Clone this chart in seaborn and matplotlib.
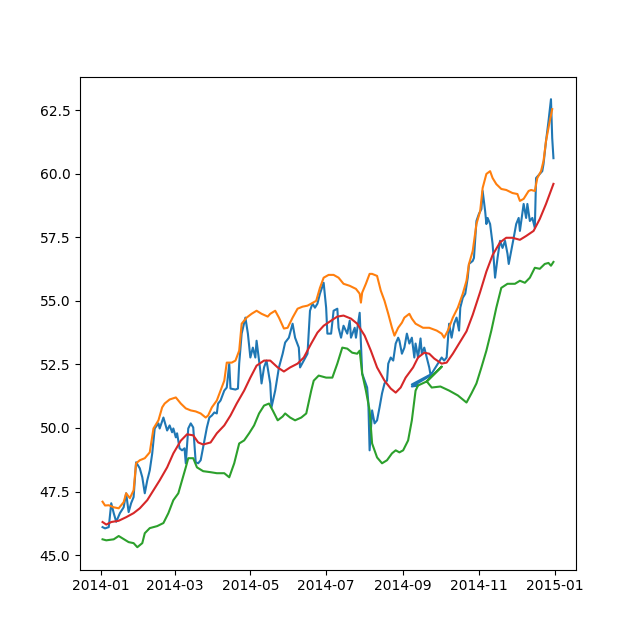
import numpy as np
import pandas as pd
import matplotlib
matplotlib.use("Agg")
import matplotlib.pyplot as plt
import seaborn as sns

# Day offsets from 2014-01-01 and values
price_days = [1, 3, 6, 8, 10, 12, 15, 18, 20, 22, 24, 26, 28, 31, 33, 35, 37, 39, 41, 43,
              46, 47, 50, 53, 55, 57, 58, 60, 61, 63, 65, 67, 68, 70, 72, 74, 76, 78, 80, 82,
              85, 87, 89, 91, 93, 94, 96, 99, 101, 103, 104, 108, 110, 111, 113, 116, 118, 120, 122, 124,
              125, 128, 129, 131, 133, 136, 137, 140, 143, 146, 148, 151, 154, 156, 159, 160, 163, 166, 168, 170,
              172, 174, 176, 179, 181, 182, 185, 187, 190, 191, 193, 195, 198, 200, 201, 204, 205, 208, 209, 210,
              212, 214, 215, 216, 218, 220, 222, 224, 226, 228, 230, 231, 233, 235, 237, 239, 240, 242, 244, 246,
              248, 250, 252, 253, 255, 257, 258, 260, 262, 264, 265, 250, 255, 250, 265, 274, 276, 278, 280, 282,
              284, 286, 288, 289, 291, 293, 295, 296, 299, 300, 302, 304, 306, 307, 309, 310, 311, 313, 315, 317,
              319, 321, 323, 325, 327, 328, 330, 332, 334, 336, 337, 340, 342, 343, 345, 347, 349, 350, 353, 355,
              356, 358, 360, 362, 363, 364]
price_vals = [46.10, 46.05, 46.10, 47.04, 46.65, 46.31, 46.65, 46.88, 47.43, 46.69, 47.04, 47.28, 48.65, 48.41, 48.06, 47.43, 47.94, 48.33, 49.00, 49.98,
              50.18, 49.98, 50.41, 49.90, 50.10, 49.83, 49.98, 49.63, 49.79, 49.20, 49.12, 49.20, 48.61, 49.98, 50.18, 50.02, 48.65, 48.61, 48.73, 49.24,
              50.02, 50.41, 50.49, 50.61, 50.57, 50.96, 51.08, 51.47, 51.59, 52.53, 51.55, 51.51, 51.55, 52.53, 53.71, 54.34, 53.71, 52.77, 53.16, 52.77,
              53.43, 52.26, 51.75, 52.38, 52.65, 51.75, 50.81, 51.47, 52.38, 52.92, 53.36, 53.55, 54.10, 53.55, 53.16, 52.38, 52.65, 52.92, 54.61, 54.89,
              54.73, 54.89, 55.28, 55.71, 54.73, 53.71, 53.71, 54.61, 54.69, 53.94, 53.55, 54.02, 53.71, 54.22, 53.55, 53.94, 53.55, 54.53, 53.32, 52.14,
              51.86, 51.59, 50.96, 49.12, 50.69, 50.18, 50.30, 50.81, 51.36, 51.75, 51.86, 52.53, 52.77, 52.65, 53.32, 53.55, 53.43, 52.92, 53.16, 53.71,
              53.32, 53.55, 52.77, 53.32, 52.77, 53.52, 52.92, 53.16, 52.77, 52.38, 52.10, 51.71, 51.67, 51.63, 52.06, 52.77, 52.65, 52.77, 54.10, 53.55,
              54.10, 54.34, 53.83, 54.73, 55.12, 55.28, 55.91, 56.45, 56.57, 56.69, 58.14, 58.42, 58.61, 59.32, 58.53, 58.02, 58.26, 58.02, 57.24, 55.91,
              56.69, 57.36, 57.08, 57.36, 56.85, 56.45, 56.96, 57.48, 58.02, 58.26, 57.75, 58.81, 58.26, 58.81, 58.14, 58.26, 57.87, 59.83, 59.99, 60.10,
              60.38, 61.28, 62.06, 62.93, 61.40, 60.61]

upper_days = [1, 3, 6, 10, 14, 18, 20, 23, 26, 28, 31, 35, 39, 42, 46, 49, 51, 55, 60, 64,
              68, 72, 76, 80, 84, 86, 89, 93, 96, 99, 101, 105, 108, 111, 113, 117, 121, 125, 129, 134,
              136, 140, 143, 147, 150, 154, 158, 162, 166, 169, 173, 176, 179, 183, 187, 191, 195, 200, 205, 208,
              209, 210, 213, 216, 218, 222, 225, 228, 231, 234, 236, 239, 242, 244, 248, 250, 253, 259, 264, 270,
              274, 276, 279, 283, 287, 291, 294, 296, 299, 302, 305, 307, 310, 313, 315, 318, 322, 326, 331, 335,
              337, 340, 344, 346, 349, 351, 354, 356, 358, 361, 363]
upper_vals = [47.10, 46.95, 46.96, 46.88, 46.84, 47.08, 47.43, 47.24, 47.55, 48.61, 48.73, 48.81, 49.04, 49.98, 50.30, 50.81, 50.96, 51.12, 51.20, 50.96,
              50.77, 50.69, 50.65, 50.57, 50.41, 50.49, 50.81, 51.08, 51.47, 51.86, 52.57, 52.57, 52.65, 53.04, 54.10, 54.34, 54.49, 54.61, 54.49, 54.38,
              54.49, 54.61, 54.34, 53.91, 53.94, 54.34, 54.69, 54.77, 54.81, 54.89, 55.00, 55.51, 55.91, 56.02, 56.02, 55.91, 55.67, 55.59, 55.47, 55.28,
              54.93, 55.32, 55.67, 56.06, 56.06, 55.98, 55.40, 55.00, 54.49, 53.94, 53.63, 53.94, 54.14, 54.34, 54.49, 54.30, 54.10, 53.94, 53.94, 53.83,
              53.71, 53.55, 53.83, 54.34, 54.73, 55.28, 55.79, 56.45, 56.96, 58.02, 58.53, 59.44, 59.99, 60.10, 59.83, 59.59, 59.40, 59.36, 59.24, 59.20,
              58.93, 59.01, 59.32, 59.36, 59.32, 59.83, 60.10, 60.50, 61.28, 62.06, 62.54]

lower_days = [1, 4, 10, 14, 18, 22, 26, 29, 33, 35, 39, 45, 50, 54, 58, 62, 65, 68, 70, 74,
              77, 82, 88, 93, 99, 103, 107, 111, 115, 119, 123, 127, 131, 135, 138, 142, 146, 148, 152, 156,
              161, 165, 169, 171, 175, 181, 186, 190, 194, 198, 202, 206, 208, 210, 213, 216, 218, 222, 226, 230,
              234, 237, 240, 243, 247, 250, 253, 255, 262, 274, 262, 266, 273, 280, 287, 294, 298, 302, 306, 310,
              314, 318, 322, 327, 333, 337, 341, 345, 349, 353, 357, 360, 362, 364]
lower_vals = [45.62, 45.58, 45.62, 45.75, 45.63, 45.51, 45.47, 45.31, 45.47, 45.86, 46.06, 46.14, 46.26, 46.65, 47.16, 47.43, 47.94, 48.45, 48.81, 48.81,
              48.45, 48.30, 48.26, 48.22, 48.22, 48.06, 48.61, 49.39, 49.51, 49.79, 50.10, 50.57, 50.88, 50.96, 50.69, 50.30, 50.45, 50.57, 50.41, 50.30,
              50.41, 50.57, 51.47, 51.86, 52.06, 51.98, 51.98, 52.53, 53.16, 53.12, 52.96, 52.92, 53.04, 52.14, 51.47, 50.69, 49.39, 48.84, 48.61, 48.73,
              49.00, 49.12, 49.04, 49.12, 49.51, 50.30, 51.47, 51.67, 51.83, 52.41, 51.83, 51.59, 51.63, 51.47, 51.28, 51.00, 51.36, 51.75, 52.38, 53.04,
              53.83, 54.73, 55.51, 55.67, 55.67, 55.79, 55.71, 55.91, 56.30, 56.26, 56.45, 56.49, 56.38, 56.53]

mid_days = [1, 4, 8, 14, 20, 26, 31, 37, 42, 47, 53, 58, 64, 69, 74, 78, 82, 88, 93, 99,
            104, 109, 115, 120, 125, 131, 136, 142, 147, 152, 158, 163, 169, 174, 179, 185, 190, 195, 201, 206,
            212, 217, 222, 228, 233, 237, 241, 245, 251, 255, 260, 264, 268, 274, 278, 283, 288, 294, 299, 305,
            310, 315, 321, 326, 331, 337, 342, 348, 353, 358, 364]
mid_vals = [46.30, 46.20, 46.30, 46.35, 46.49, 46.65, 46.84, 47.16, 47.55, 47.94, 48.45, 49.00, 49.50, 49.75, 49.71, 49.43, 49.35, 49.43, 49.79, 50.10,
            50.49, 50.96, 51.47, 51.98, 52.45, 52.65, 52.65, 52.38, 52.22, 52.38, 52.53, 52.77, 53.32, 53.75, 54.02, 54.22, 54.38, 54.42, 54.30, 54.10,
            53.63, 53.04, 52.38, 51.86, 51.55, 51.39, 51.59, 51.98, 52.38, 52.77, 52.96, 52.92, 52.73, 52.53, 52.57, 52.92, 53.32, 53.80, 54.45, 55.35,
            56.15, 56.80, 57.30, 57.48, 57.48, 57.40, 57.55, 57.75, 58.22, 58.81, 59.60]

start = pd.Timestamp("2014-01-01")


def to_frame(days, vals):
    return pd.DataFrame({"date": start + pd.to_timedelta(days, unit="D"), "value": vals})


fig, ax = plt.subplots(figsize=(6.4, 6.4), dpi=100)
for days, vals, color in [(price_days, price_vals, "tab:blue"),
                          (upper_days, upper_vals, "tab:orange"),
                          (lower_days, lower_vals, "tab:green"),
                          (mid_days, mid_vals, "tab:red")]:
    df = to_frame(days, vals)
    sns.lineplot(data=df, x="date", y="value", sort=False, estimator=None,
                 color=color, linewidth=1.5, ax=ax)

ax.set_xlabel("")
ax.set_ylabel("")
fig.savefig("out.png", dpi=100)
